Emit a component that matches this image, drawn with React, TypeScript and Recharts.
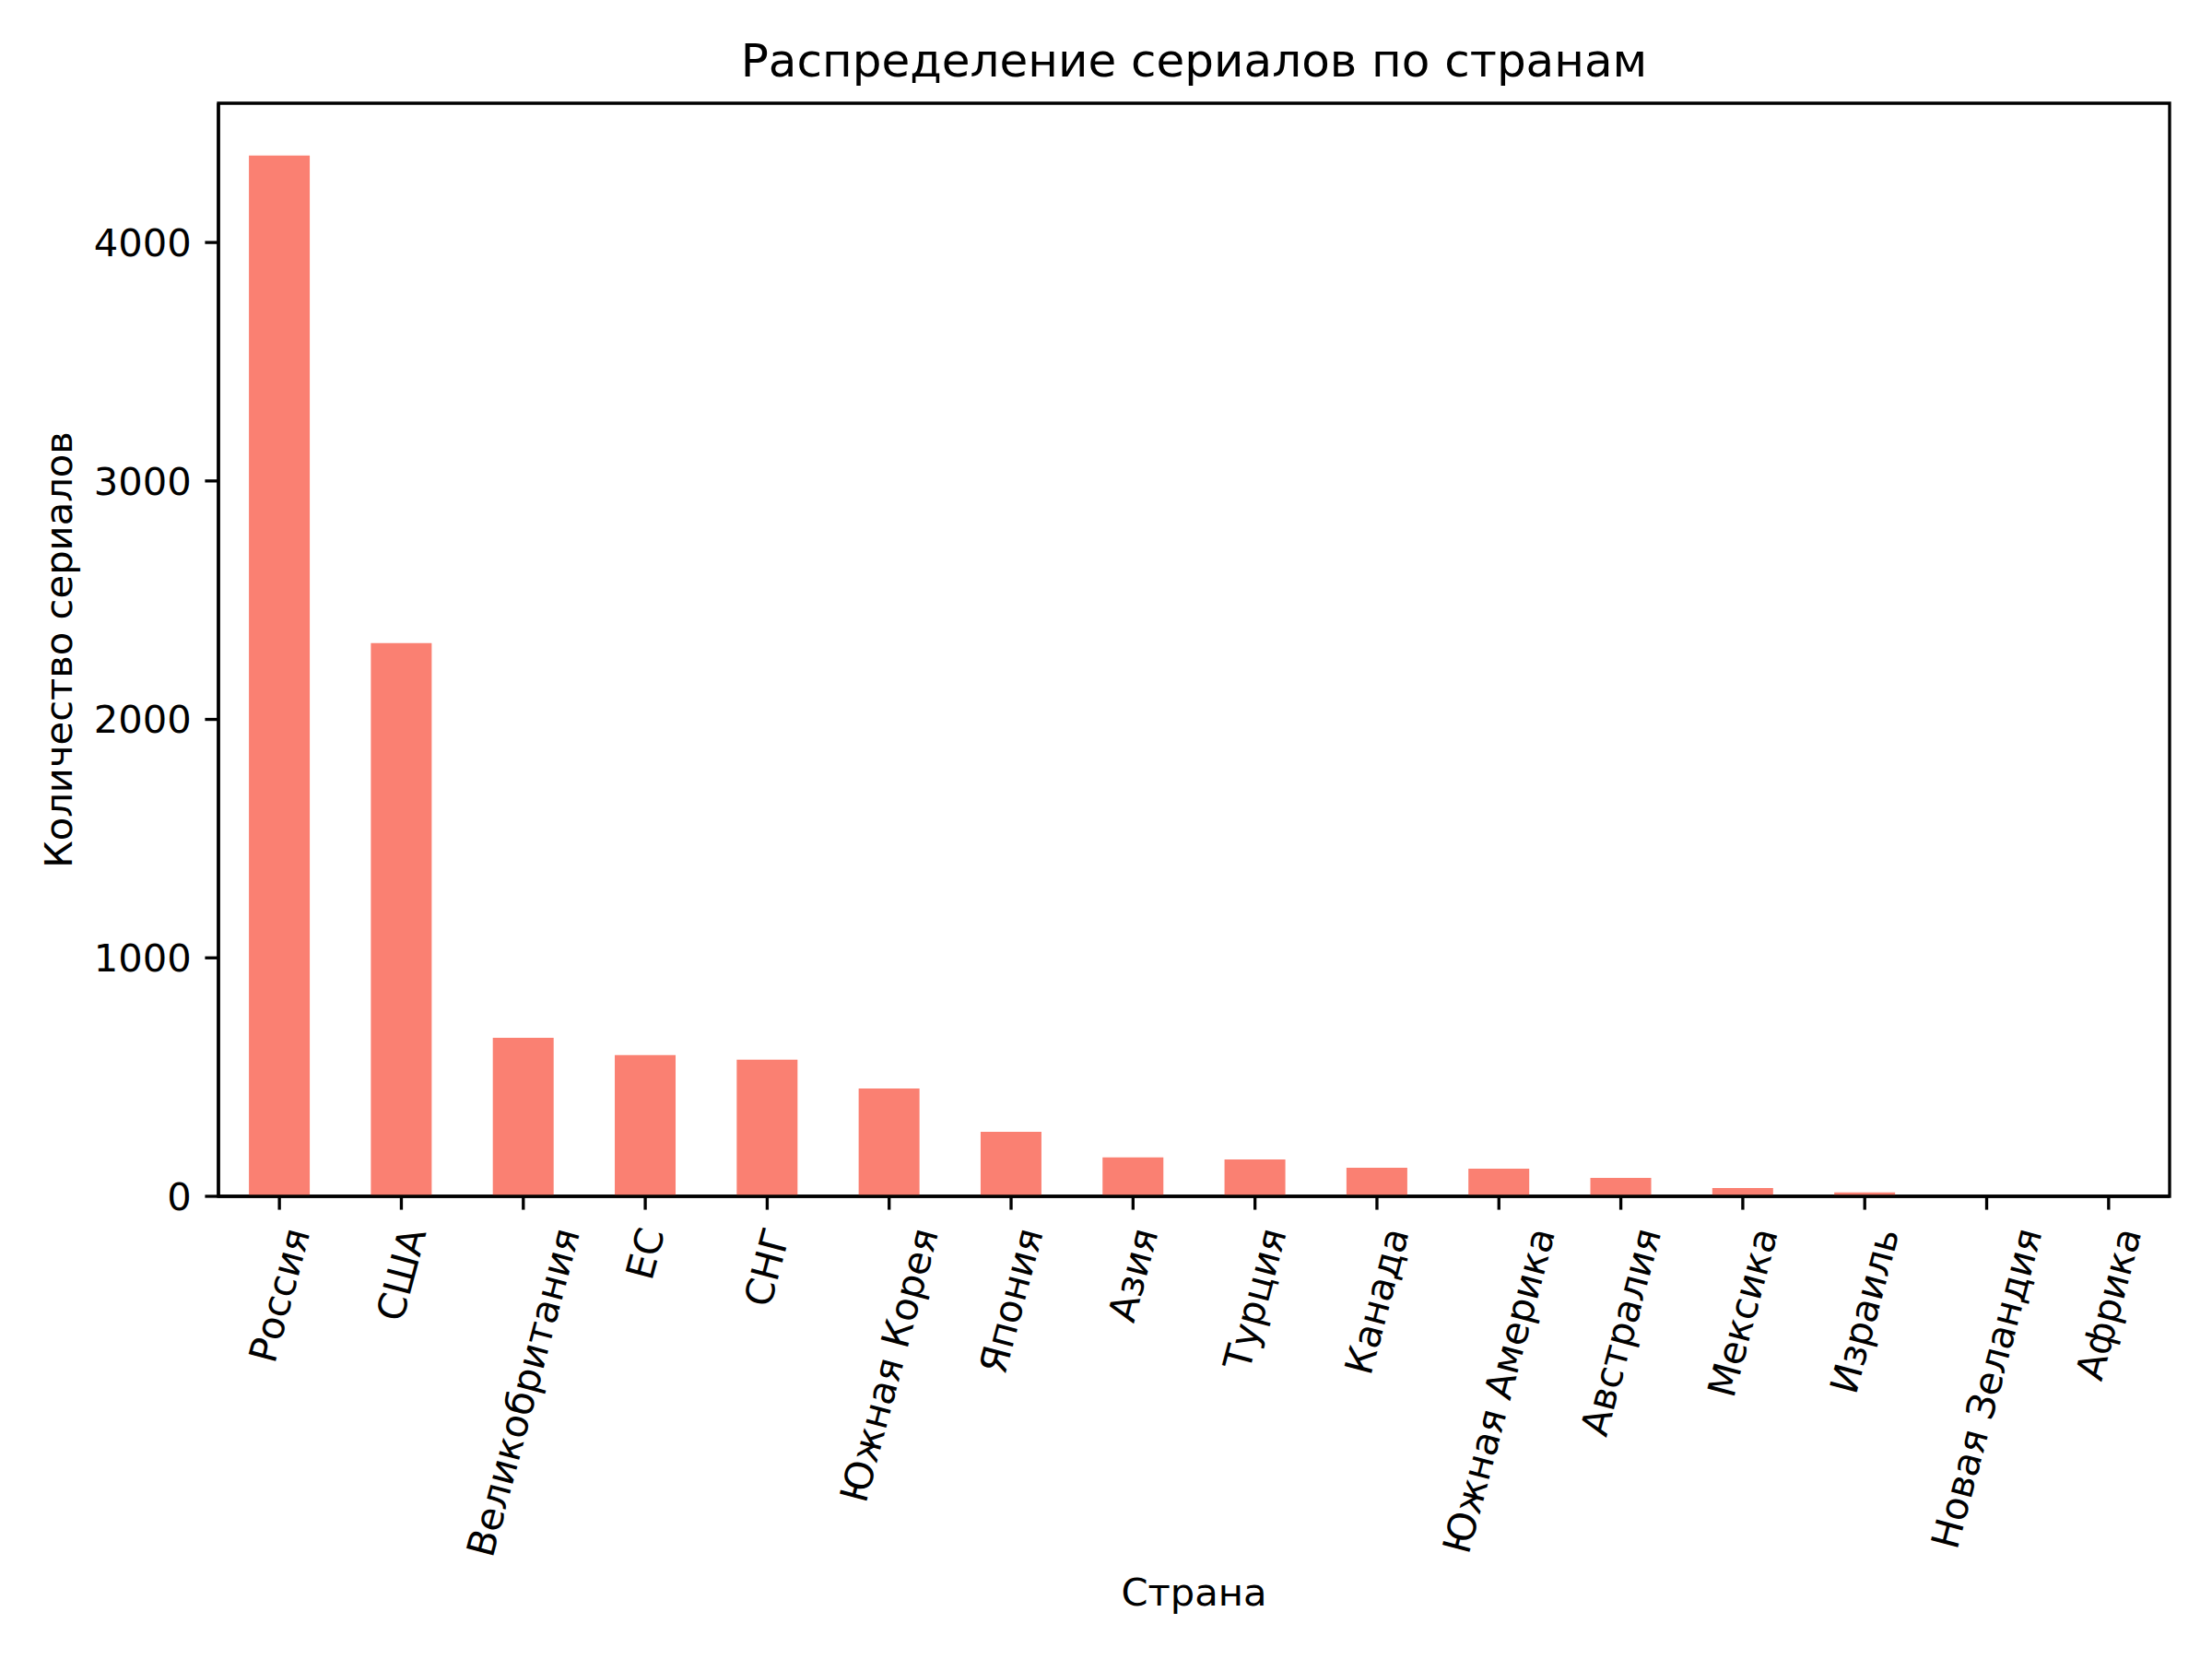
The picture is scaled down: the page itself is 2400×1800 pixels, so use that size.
import { BarChart, Bar, XAxis, YAxis, Label, ReferenceArea } from 'recharts';

const countries = [
    'Россия',
    'США',
    'Великобритания',
    'ЕС',
    'СНГ',
    'Южная Корея',
    'Япония',
    'Азия',
    'Турция',
    'Канада',
    'Южная Америка',
    'Австралия',
    'Мексика',
    'Израиль',
    'Новая Зеландия',
    'Африка',
];
const seriesCounts = [4365, 2320, 665, 592, 573, 452, 271, 163, 155, 120, 116, 77, 35, 16, 4, 1];
const yTicks = [0, 1000, 2000, 3000, 4000];
const yMax = 4584;

const data = countries.map((country, i) => ({ country, count: seriesCounts[i] }));

const FONT = 'DejaVu Sans';
const FS = 41.67;
const TICK = 14.58;
const LW = 3.33;

const ctx = document.createElement('canvas').getContext('2d');
const textWidth = (s: string) => {
    if (!ctx) return s.length * FS * 0.62;
    ctx.font = `${FS}px "${FONT}"`;
    return ctx.measureText(s).width;
};

// matplotlib-style rotated label: bbox centred under the tick
const RotatedTick = ({ x, y, payload }: any) => {
    const L = textWidth(payload.value);
    const h = FS * 1.164;
    const a = (75 * Math.PI) / 180;
    const cy = y + (L * Math.sin(a) + h * Math.cos(a)) / 2;
    return (
        <text
            x={x}
            y={cy}
            textAnchor="middle"
            dominantBaseline="central"
            transform={`rotate(-75 ${x} ${cy})`}
            fontSize={FS}
            fontFamily={FONT}
            fill="#000"
        >
            {payload.value}
        </text>
    );
};

const App = () => {
    return (
        <div style={{ position: 'absolute', left: 0, top: 0, background: '#fff' }}>
            <div style={{ position: 'relative', width: 2400, height: 1800 }}>
                <div
                    style={{
                        position: 'absolute',
                        left: 0,
                        width: 2591,
                        top: 87 - 50 * 0.93,
                        textAlign: 'center',
                        fontFamily: FONT,
                        fontSize: 50,
                        lineHeight: '50px',
                        color: '#000',
                        pointerEvents: 'none',
                    }}
                >
                    Распределение сериалов по странам
                </div>
                <BarChart
                    width={2400}
                    height={1800}
                    data={data}
                    margin={{ top: 112, right: 46, bottom: 0, left: 0 }}
                    barCategoryGap="25%"
                    style={{ fontFamily: FONT }}
                >
                    <XAxis
                        dataKey="country"
                        type="category"
                        height={502}
                        interval={0}
                        tickSize={TICK}
                        tickMargin={TICK}
                        tick={<RotatedTick />}
                        tickLine={{ stroke: '#000', strokeWidth: LW }}
                        axisLine={{ stroke: '#000', strokeWidth: LW }}
                    >
                        <Label
                            value="Страна"
                            position="insideBottom"
                            offset={58}
                            style={{ fontSize: FS, fill: '#000', fontFamily: FONT }}
                        />
                    </XAxis>
                    <YAxis
                        type="number"
                        domain={[0, yMax]}
                        ticks={yTicks}
                        width={237}
                        tickSize={TICK}
                        tickMargin={TICK}
                        tick={{ fontSize: FS, fill: '#000', fontFamily: FONT }}
                        tickLine={{ stroke: '#000', strokeWidth: LW }}
                        axisLine={{ stroke: '#000', strokeWidth: LW }}
                    >
                        <Label
                            content={() => (
                                <text
                                    x={63}
                                    y={705}
                                    textAnchor="middle"
                                    dominantBaseline="central"
                                    transform="rotate(-90 63 705)"
                                    fontSize={FS}
                                    fontFamily={FONT}
                                    fill="#000"
                                >
                                    Количество сериалов
                                </text>
                            )}
                        />
                    </YAxis>
                    <Bar dataKey="count" fill="#fa8072" isAnimationActive={false} />
                    <ReferenceArea
                        y1={0}
                        y2={yMax}
                        fill="none"
                        fillOpacity={0}
                        stroke="#000"
                        strokeWidth={LW}
                        strokeOpacity={1}
                        ifOverflow="visible"
                    />
                </BarChart>
            </div>
        </div>
    );
};

export default App;
